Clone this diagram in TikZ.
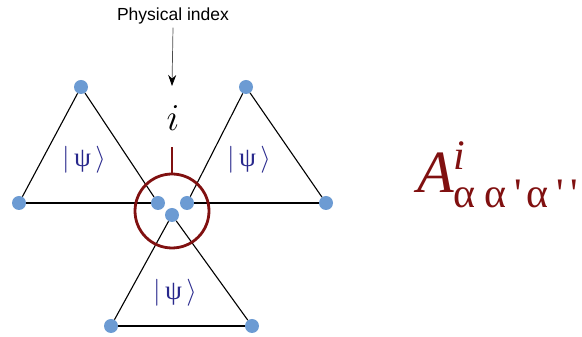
\RequirePackage{fix-cm}
\documentclass[tikz,border=0pt]{standalone}
\usepackage{amsmath, amssymb}
\usepackage{fontspec}
\newfontfamily\labelfont{Liberation Sans}
\newfontfamily\greekfont{Liberation Serif}
\usepackage{tikz}
\usetikzlibrary{calc, arrows.meta}

\definecolor{siteblue}{RGB}{108,155,211}
\definecolor{tensorred}{RGB}{128,16,16}
\definecolor{ketblue}{RGB}{40,40,140}

\newcommand{\ketpsi}{$|$\,{\greekfont ψ}\,$\rangle$}

\begin{document}
\begin{tikzpicture}[x=1pt, y=1pt,
    site/.style={circle, fill=siteblue, inner sep=0pt, minimum size=14pt},
    bond/.style={black, line width=1.1pt},
    ket/.style={text=ketblue, font=\fontsize{27}{27}\selectfont}]
            \useasboundingbox (0,0) rectangle (582,337);
            % left triangle
            \node[site] (L1) at (81,250) {};
            \node[site] (L2) at (19,134) {};
            \node[site] (L3) at (158,134) {};
            % right triangle
            \node[site] (R1) at (246,250) {};
            \node[site] (R2) at (187,134) {};
            \node[site] (R3) at (326,134) {};
            % bottom triangle
            \node[site] (B1) at (172,122) {};
            \node[site] (B2) at (111,11) {};
            \node[site] (B3) at (252,11) {};

            \draw[bond] (L1) -- (L2);
            \draw[bond] (L2) -- (L3);
            \draw[bond] (L3) -- (L1);
            \draw[bond] (R1) -- (R2);
            \draw[bond] (R2) -- (R3);
            \draw[bond] (R3) -- (R1);
            \draw[bond] (B1) -- (B2);
            \draw[bond] (B2) -- (B3);
            \draw[bond] (B3) -- (B1);

            \node[ket] (psiL) at (84,177) {\ketpsi};
            \node[ket] (psiR) at (249,177) {\ketpsi};
            \node[ket] (psiB) at (175,44) {\ketpsi};

            % the tensor A and its physical leg
            \coordinate (C) at (172,126);
            \draw[tensorred, line width=2.8pt] (C) circle (37);
            \coordinate (legtop) at (172,190);
            \coordinate (legfoot) at ($(C)+(0,37)$);
            \draw[tensorred, line width=2.4pt] (legfoot) -- (legtop);

            \node (phys) at (173,219) {\fontsize{38}{38}\selectfont$i$};
            \node[font=\labelfont\fontsize{17.5}{17.5}\selectfont] (label) at (173,321) {Physical index};
            \coordinate (tip) at (172,251);
            \draw[black!70, line width=0.7pt, -{Stealth[length=11pt, width=8pt, black]}] (label.south) -- (tip);

            \node[anchor=west, text=tensorred, font=\fontsize{60}{60}\selectfont, inner sep=0pt] (Aform) at (417,162)
                {$\text{\greekfont\itshape A}^{\text{\greekfont\itshape i}}_{\text{\greekfont α\hspace{0.2em}α\hspace{0.2em}'\hspace{0.1em}α\hspace{0.2em}'\hspace{0.15em}'}}$};
        \end{tikzpicture}
\end{document}
